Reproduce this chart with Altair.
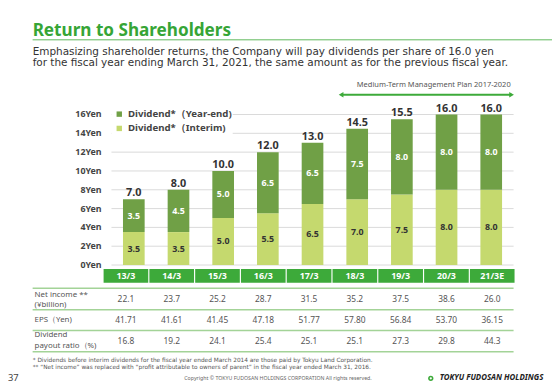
import altair as alt
import pandas as pd

# ---------------- data ----------------
categories = ["13/3", "14/3", "15/3", "16/3", "17/3", "18/3", "19/3", "20/3", "21/3E"]
interim = [3.5, 3.5, 5.0, 5.5, 6.5, 7.0, 7.5, 8.0, 8.0]
year_end = [3.5, 4.5, 5.0, 6.5, 6.5, 7.5, 8.0, 8.0, 8.0]
totals = [7.0, 8.0, 10.0, 12.0, 13.0, 14.5, 15.5, 16.0, 16.0]
net_income = ["22.1", "23.7", "25.2", "28.7", "31.5", "35.2", "37.5", "38.6", "26.0"]
eps = ["41.71", "41.61", "41.45", "47.18", "51.77", "57.80", "56.84", "53.70", "36.15"]
payout = ["16.8", "19.2", "24.1", "25.4", "25.1", "25.1", "27.3", "29.8", "44.3"]
y_ticks = [0, 2, 4, 6, 8, 10, 12, 14, 16]

YE = "Dividend*（Year-end)"
INT = "Dividend*（Interim)"

FONT = "Noto Sans"
SUBFONT = "DejaVu Sans"
DARK = "#70A046"
LIGHT = "#C5D96E"
GREEN = "#3DAA3A"
TITLE_GREEN = "#36A536"
GRID = "#D9D9D9"
TXT = "#333333"
GRAY = "#555555"

# ---------------- tables ----------------
rows = []
for c, a, b in zip(categories, interim, year_end):
    rows.append({"cat": c, "series": INT, "y0": 0.0, "y1": a, "mid": a / 2,
                 "lab": f"{a:.1f}", "tc": TXT})
    rows.append({"cat": c, "series": YE, "y0": a, "y1": a + b, "mid": a + b / 2,
                 "lab": f"{b:.1f}", "tc": "white"})
bars_df = pd.DataFrame(rows)
tot_df = pd.DataFrame({"cat": categories, "total": totals,
                       "lab": [f"{t:.1f}" for t in totals]})
ticks_df = pd.DataFrame({"v": y_ticks, "lab": [f"{v}Yen" for v in y_ticks]})
tab_df = pd.DataFrame({"cat": categories, "ni": net_income, "eps": eps, "pr": payout})
one = pd.DataFrame({"a": [0]})

yscale = alt.Scale(domain=[0, 16], range=[258, 105.3])
xbar = alt.Scale(domain=categories, range=[105, 513], paddingInner=0.515, paddingOuter=0.2575)
xhead = alt.Scale(domain=categories, range=[97, 514], paddingInner=0.025, paddingOuter=0)

# ---------------- bar group ----------------
grid = alt.Chart(ticks_df).mark_rule(color=GRID, strokeWidth=1).encode(
    y=alt.Y("v:Q", scale=yscale, axis=None), x=alt.value(105), x2=alt.value(513))
ylabels = alt.Chart(ticks_df).mark_text(
    align="right", baseline="middle", font=FONT, fontSize=9, fontWeight="bold", color="#444444"
).encode(y=alt.Y("v:Q", scale=yscale, axis=None), x=alt.value(95), text="lab:N")
legend_box = alt.Chart(one).mark_rect(color="white").encode(
    x=alt.value(105), x2=alt.value(228), y=alt.value(96), y2=alt.value(126))

bars = alt.Chart(bars_df).mark_bar().encode(
    x=alt.X("cat:N", scale=xbar, axis=None),
    y=alt.Y("y0:Q", scale=yscale, axis=None),
    y2="y1:Q",
    color=alt.Color("series:N", scale=alt.Scale(domain=[YE, INT], range=[DARK, LIGHT]),
                    legend=alt.Legend(orient="none", legendX=108, legendY=100, title=None,
                                      symbolType="square", symbolSize=30, symbolStrokeWidth=0,
                                      labelFont=FONT, labelFontSize=9.8, labelFontWeight="bold",
                                      labelColor="#444444", rowPadding=3.5, padding=0,
                                      labelOffset=4)),
)
seg = alt.Chart(bars_df).mark_text(
    baseline="middle", font=FONT, fontSize=9, fontWeight="bold"
).encode(x=alt.X("cat:N", scale=xbar, axis=None), y=alt.Y("mid:Q", scale=yscale, axis=None),
         text="lab:N", color=alt.Color("tc:N", scale=None))
tot = alt.Chart(tot_df).mark_text(
    baseline="bottom", dy=-1, font=FONT, fontSize=11, fontWeight="bold", color=TXT
).encode(x=alt.X("cat:N", scale=xbar, axis=None), y=alt.Y("total:Q", scale=yscale, axis=None),
         text="lab:N")

bar_group = alt.layer(grid, ylabels, bars, legend_box, seg, tot)

# ---------------- table group ----------------
head = alt.Chart(tab_df).mark_rect(color=GREEN).encode(
    x=alt.X("cat:N", scale=xhead, axis=None), y=alt.value(262), y2=alt.value(276))
head_txt = alt.Chart(tab_df).mark_text(
    baseline="middle", font=FONT, fontSize=9, fontWeight="bold", color="white"
).encode(x=alt.X("cat:N", scale=xhead, axis=None), y=alt.value(269), text="cat:N")
table_layers = [head, head_txt]
for field, ypos in [("ni", 292.7), ("eps", 314.3), ("pr", 334.7)]:
    table_layers.append(alt.Chart(tab_df).mark_text(
        baseline="middle", font=FONT, fontSize=8.5, color=GRAY
    ).encode(x=alt.X("cat:N", scale=xhead, axis=None), y=alt.value(ypos), text=f"{field}:N"))
table_group = alt.layer(*table_layers)

# ---------------- decorations ----------------
deco = []
for ypos in [281.5, 303.5, 324.5, 346]:
    deco.append(alt.Chart(one).mark_rule(color="#A3D397", strokeWidth=1.5).encode(
        x=alt.value(25), x2=alt.value(513), y=alt.value(ypos)))


def txt(text, x, y, size, color=GRAY, weight="normal", align="left", baseline="middle",
        style="normal", lh=None, font=FONT):
    props = dict(text=text, font=font, fontSize=size, color=color, fontWeight=weight,
                 align=align, baseline=baseline, fontStyle=style)
    if lh is not None:
        props["lineHeight"] = lh
    return alt.Chart(one).mark_text(**props).encode(x=alt.value(x), y=alt.value(y))


deco += [
    txt(["Net income **", "(¥billion)"], 27, 288, 8, lh=10.5),
    txt("EPS（Yen)", 27, 314, 8),
    txt(["Dividend", "payout ratio（%)"], 27, 329, 8, lh=11),
    txt("Return to Shareholders", 25, 26, 17.4, color=TITLE_GREEN, weight="bold",
        baseline="alphabetic"),
    alt.Chart(one).mark_rule(color="#5DB85A", strokeWidth=1).encode(
        x=alt.value(25), x2=alt.value(552), y=alt.value(29.5)),
    txt("Emphasizing shareholder returns, the Company will pay dividends per share of 16.0 yen",
        25, 44.5, 10.6, color=TXT, baseline="alphabetic", font=SUBFONT),
    txt("for the fiscal year ending March 31, 2021, the same amount as for the previous fiscal year.",
        25, 56.5, 10.6, color=TXT, baseline="alphabetic", font=SUBFONT),
    txt("Medium-Term  Management Plan 2017-2020", 432, 75, 7.6, align="center"),
    alt.Chart(one).mark_rule(color=GREEN, strokeWidth=2).encode(
        x=alt.value(338), x2=alt.value(511), y=alt.value(85.3)),
    alt.Chart(one).mark_point(shape="triangle-left", filled=True, size=30, color=GREEN,
                              opacity=1).encode(x=alt.value(338), y=alt.value(85.3)),
    alt.Chart(one).mark_point(shape="triangle-right", filled=True, size=30, color=GREEN,
                              opacity=1).encode(x=alt.value(511), y=alt.value(85.3)),
    txt("* Dividends before interim dividends for the fiscal year ended March 2014 are those paid by Tokyu Land Corporation.",
        25, 354.2, 5.9, font=SUBFONT),
    txt("** \u201cNet income\u201d was replaced with \u201cprofit attributable to owners of parent\u201d in the fiscal year ended March 31, 2016.",
        25, 361.4, 5.9, font=SUBFONT),
    txt("37", 0, 373, 9.5, color="#444444"),
    txt("Copyright  \u00a9  TOKYU FUDOSAN HOLDINGS CORPORATION  All rights reserved.", 274, 373, 5.3,
        color="#666666", align="center"),
    alt.Chart(one).mark_point(shape="circle", filled=True, size=28, color="#3DAA3A",
                              opacity=1).encode(x=alt.value(429), y=alt.value(373)),
    alt.Chart(one).mark_point(shape="circle", filled=True, size=5, color="white",
                              opacity=1).encode(x=alt.value(429), y=alt.value(373)),
    txt("TOKYU FUDOSAN HOLDINGS", 438, 373, 8, color="#222222", weight="bold", style="italic"),
]

chart = alt.layer(bar_group, table_group, *deco).resolve_scale(x="independent").properties(
    width=552, height=380, padding=0, background="white",
    autosize=alt.AutoSizeParams(type="none"),
).configure_view(stroke=None)

chart.save("out.html", embed_options={"renderer": "svg", "actions": False})
